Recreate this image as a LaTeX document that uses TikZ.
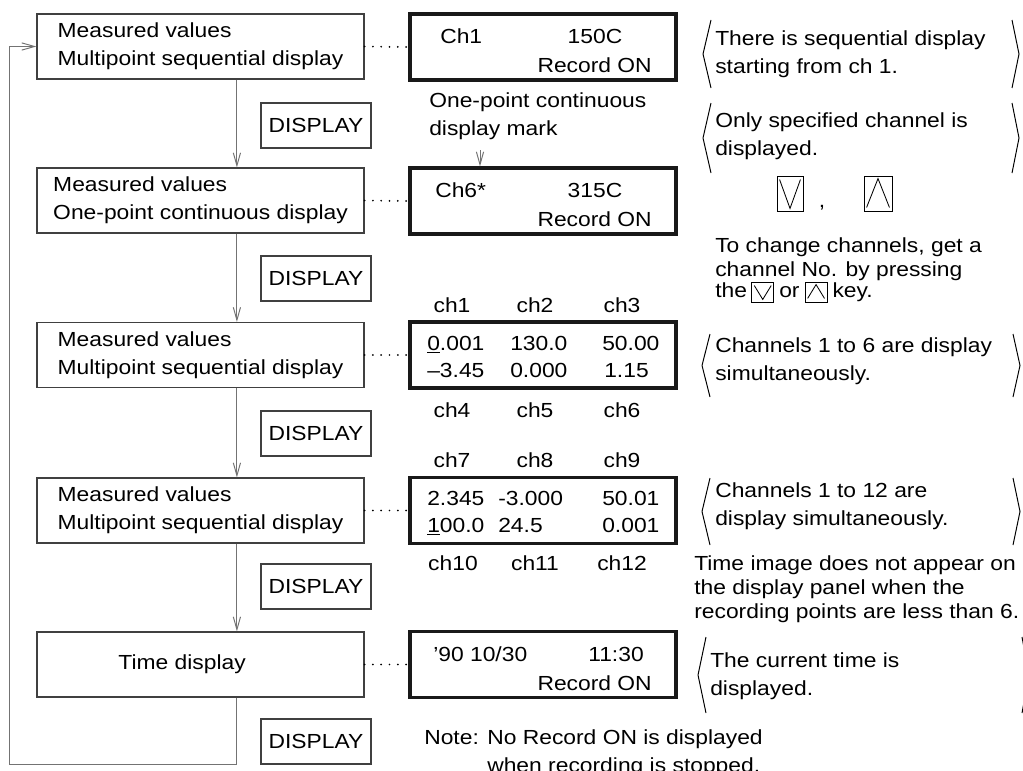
\documentclass[tikz,border=0pt]{standalone}
\usepackage{fontspec}
\setmainfont{Liberation Sans}[FakeStretch=1.12]
\usetikzlibrary{arrows.meta,positioning}

\tikzset{
  state/.style={draw=black!75, line width=0.8pt, minimum width=8.175cm, minimum height=1.625cm, align=left, inner sep=0pt},
  lcd/.style={draw=black!90, line width=2.2pt, minimum width=6.65cm, minimum height=1.65cm},
  keybox/.style={draw=black!75, line width=0.8pt, minimum width=2.75cm, minimum height=1.125cm, inner sep=0pt},
  flow/.style={draw=black!55, line width=0.7pt, -{Straight Barb[length=3.2mm,width=1.8mm]}},
  dotline/.style={line width=1.4pt, dash pattern=on 0pt off 5.9pt, line cap=round},
  brk/.style={line width=0.7pt},
  icon/.style={draw, line width=0.6pt, inner sep=0pt},
  txt/.style={inner sep=0pt, align=left},
  tight/.style={font=\fontsize{14.5}{17}\selectfont},
  inl/.style={inner sep=0pt, text height=10.4pt, text depth=3pt},
}

% angle brackets round a note: top, bottom, left x, right x
\newcommand{\anglepair}[4]{%
  \draw[brk] (#3+8,#1) -- (#3,{(#1+#2)/2}) -- (#3+8,#2);
  \draw[brk] (#4-7,#1) -- (#4,{(#1+#2)/2}) -- (#4-7,#2);}
% key marks drawn into an icon node
\newcommand{\downmark}[1]{\draw[line width=0.6pt] ([shift={(3,4)}]#1.north west) -- ([shift={(0,-3)}]#1.south) -- ([shift={(-3,4)}]#1.north east);}
\newcommand{\upmark}[1]{\draw[line width=0.6pt] ([shift={(3,-4)}]#1.south west) -- ([shift={(0,3)}]#1.north) -- ([shift={(-3,-4)}]#1.south east);}

\begin{document}
\begin{tikzpicture}[x=0.025cm, y=-0.025cm, font=\fontsize{14.5}{20}\selectfont]
  \clip (0,0) rectangle (1023,770);

  % Display states
  \node[state] (m1) at (200.5,46.5) {Measured values\\Multipoint sequential display};
  \node[state] (m2) at (200.5,200.5) {Measured values\\One-point continuous display};
  \node[state] (m3) at (200.5,355) {Measured values\\Multipoint sequential display};
  \node[state] (m4) at (200.5,510.5) {Measured values\\Multipoint sequential display};
  \node[state] (m5) at (200.5,664.5) {Time display\hspace*{0.92cm}};

  % DISPLAY keys
  \node[keybox] (d1) at (316,125.5) {DISPLAY};
  \node[keybox] (d2) at (316,278.5) {DISPLAY};
  \node[keybox] (d3) at (316,433.5) {DISPLAY};
  \node[keybox] (d4) at (316,586.5) {DISPLAY};
  \node[keybox] (d5) at (316,741.5) {DISPLAY};

  % Flow from state to state, and back to the top
  \coordinate (loop) at (9,764);
  \draw[flow] ([xshift=0.91cm]m1.south) -- ([xshift=0.91cm]m2.north);
  \draw[flow] ([xshift=0.91cm]m2.south) -- ([xshift=0.91cm]m3.north);
  \draw[flow] ([xshift=0.91cm]m3.south) -- ([xshift=0.91cm]m4.north);
  \draw[flow] ([xshift=0.91cm]m4.south) -- ([xshift=0.91cm]m5.north);
  \draw[flow] ([xshift=0.91cm]m5.south) |- (loop) |- (m1.west);

  % Panel screens
  \node[lcd] (lcd1) at (543,47) {};
  \node[lcd] (lcd2) at (543,201) {};
  \node[lcd] (lcd3) at (543,355) {};
  \node[lcd] (lcd4) at (543,510.5) {};
  \node[lcd] (lcd5) at (543,664.5) {};
  \draw[dotline] (m1.east) -- (lcd1.west);
  \draw[dotline] (m2.east) -- (lcd2.west);
  \draw[dotline] (m3.east) -- (lcd3.west);
  \draw[dotline] (m4.east) -- (lcd4.west);
  \draw[dotline] (m5.east) -- (lcd5.west);

  % Screen 1
  \node[inl, anchor=west] (s1a) at (440,38) {Ch1};
  \node[inl] (s1b) at (595,38) {150C};
  \node[inl, anchor=east] (s1c) at (652,67) {Record ON};

  % Mark and screen 2
  \node[txt, anchor=north west] (mark) at (429,92.5) {One-point continuous\\display mark};
  \coordinate (mk) at (480,150);
  \draw[flow] (mk) -- (mk |- lcd2.north);
  \node[inl, anchor=west] (s2a) at (435,192) {Ch6*};
  \node[inl] (s2b) at (595,192) {315C};
  \node[inl, anchor=east] (s2c) at (652,221) {Record ON};

  % Screen 3
  \node[inl] (c1) at (452,307) {ch1};
  \node[inl] (c2) at (535,307) {ch2};
  \node[inl] (c3) at (622,307) {ch3};
  \node[inl, anchor=west] (s3a) at (427,345) {\underline{0}.001};
  \node[inl, anchor=west] (s3b) at (510,345) {130.0};
  \node[inl, anchor=west] (s3c) at (602,345) {50.00};
  \node[inl, anchor=west] (s3d) at (427,372) {--3.45};
  \node[inl, anchor=west] (s3e) at (510,372) {0.000};
  \node[inl, anchor=west] (s3f) at (604,372) {1.15};
  \node[inl] (c4) at (452,412) {ch4};
  \node[inl] (c5) at (535,412) {ch5};
  \node[inl] (c6) at (622,412) {ch6};

  % Screen 4
  \node[inl] (c7) at (452,462) {ch7};
  \node[inl] (c8) at (535,462) {ch8};
  \node[inl] (c9) at (622,462) {ch9};
  \node[inl, anchor=west] (s4a) at (427,500) {2.345};
  \node[inl, anchor=west] (s4b) at (498,500) {-3.000};
  \node[inl, anchor=west] (s4c) at (602,500) {50.01};
  \node[inl, anchor=west] (s4d) at (427,527) {\underline{1}00.0};
  \node[inl, anchor=west] (s4e) at (498,527) {24.5};
  \node[inl, anchor=west] (s4f) at (602,527) {0.001};
  \node[inl] (c10) at (453,565) {ch10};
  \node[inl] (c11) at (535,565) {ch11};
  \node[inl] (c12) at (622,565) {ch12};

  % Screen 5 and note
  \node[inl, anchor=west] (s5a) at (433,656) {'90 10/30};
  \node[inl, anchor=east] (s5b) at (644,656) {11:30};
  \node[inl, anchor=east] (s5c) at (652,685) {Record ON};
  \node[anchor=base west, inner sep=0pt] (note) at (424,744.5)
    {\begin{tabular}[t]{@{}l@{\hspace{6pt}}l@{}}Note: & No Record ON is displayed\\ & when recording is stopped.\end{tabular}};

  % Notes on the right
  \anglepair{20}{88}{703}{1019}
  \node[txt, anchor=north west] (n1) at (715,30.5) {There is sequential display\\starting from ch 1.};
  \anglepair{103}{173}{703}{1019}
  \node[txt, anchor=north west] (n2) at (715,112.5) {Only specified channel is\\displayed.};

  % Channel keys
  \node[icon, minimum width=0.65cm, minimum height=0.875cm] (kdn) at (790,193.5) {};
  \downmark{kdn}
  \node[inl, anchor=base] (comma) at (822,207) {,};
  \node[icon, minimum width=0.7cm, minimum height=0.875cm] (kup) at (878,193.5) {};
  \upmark{kup}
  \node[txt, tight, anchor=north west] (n2b) at (715,237.5) {To change channels, get a\\channel No. by pressing};
  \node[inl, anchor=west] (the) at (715,292) {the};
  \node[icon, minimum width=0.55cm, minimum height=0.5cm, right=0.1cm of the] (ksd) {};
  \downmark{ksd}
  \node[inl, right=0.12cm of ksd] (or) {or};
  \node[icon, minimum width=0.55cm, minimum height=0.5cm, right=0.12cm of or] (ksu) {};
  \upmark{ksu}
  \node[inl, right=0.12cm of ksu] (key) {key.};

  \anglepair{334}{397}{702}{1020}
  \node[txt, anchor=north west] (n3) at (715,337.5) {Channels 1 to 6 are display\\simultaneously.};
  \anglepair{478}{545}{702}{1020}
  \node[txt, anchor=north west] (n4) at (715,482.5) {Channels 1 to 12 are\\display simultaneously.};
  \node[txt, tight, anchor=north west] (n6) at (694,555.5) {Time image does not appear on\\the display panel when the\\recording points are less than 6.};
  \anglepair{637}{713}{698}{1029}
  \node[txt, anchor=north west] (n5) at (710,652.5) {The current time is\\displayed.};
\end{tikzpicture}
\end{document}
